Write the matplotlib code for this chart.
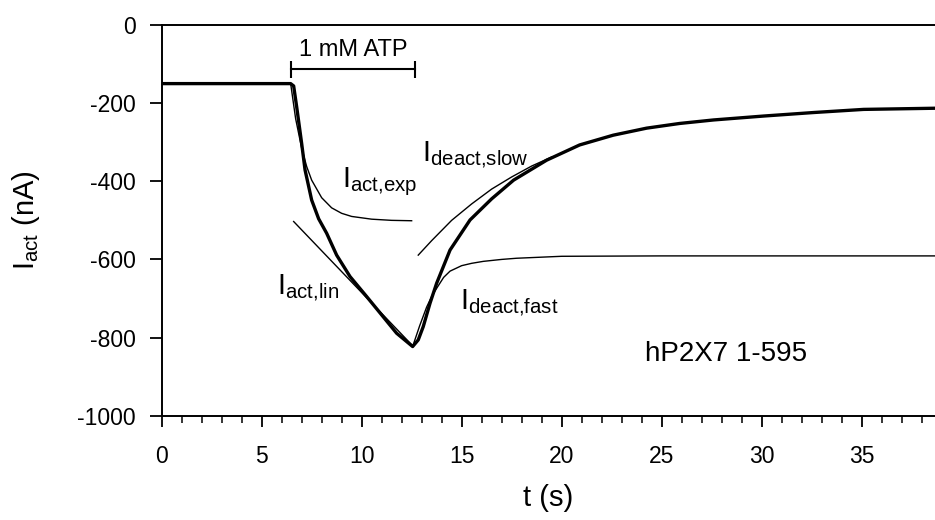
import numpy as np
import matplotlib.pyplot as plt
from matplotlib.ticker import MultipleLocator

plt.rcParams['font.family'] = ['Liberation Sans', 'DejaVu Sans']
plt.rcParams['mathtext.fontset'] = 'custom'
plt.rcParams['mathtext.rm'] = 'Liberation Sans'
plt.rcParams['mathtext.it'] = 'Liberation Sans:italic'
plt.rcParams['axes.unicode_minus'] = False

# measured current trace (time in s, current in nA)
trace_t = [0, 1, 2, 3, 4, 5, 6, 6.45, 6.6, 6.75, 7.0, 7.17, 7.5, 7.85, 8.25, 8.75,
           9.42, 10.25, 11.08, 11.75, 12.55, 12.83, 13.08, 13.42, 13.75, 14.42,
           15.42, 16.5, 17.6, 19.25, 20.9, 22.58, 24.25, 25.9, 27.6, 30.1,
           32.6, 35.1, 38.7]
trace_i = [-150, -150, -150, -150, -150, -150, -150, -150, -156, -209, -303, -371,
           -448, -496, -533, -589, -644, -695, -747, -789, -823, -806, -772, -712,
           -661, -576, -499, -445, -397, -346, -307, -282, -264, -252, -243, -233,
           -224, -216, -213]

# exponential fit of the activation phase
act_exp_t = [6.45, 6.7, 7.0, 7.25, 7.5, 8.0, 8.5, 9.0, 9.5, 10.5, 11.5, 12.5]
act_exp_i = [-150, -240, -315, -362, -397, -442, -468, -482, -490, -497, -500, -501]

# linear fit of the late activation phase
act_lin_t = [6.6, 12.55]
act_lin_i = [-503, -821]

# fast deactivation component
deact_fast_t = [12.55, 12.9, 13.25, 13.5, 13.8, 14.1, 14.42, 15.0, 15.5, 16.08, 17.0,
                17.75, 20.0, 25.0, 38.7]
deact_fast_i = [-823, -770, -722, -695, -670, -646, -630, -616, -610, -605, -600,
                -597, -592, -591, -591]

# slow deactivation component
deact_slow_t = [12.83, 13.5, 14.5, 15.5, 16.5, 17.5, 18.5, 19.5]
deact_slow_i = [-589, -552, -500, -458, -420, -389, -361, -338]

# ATP application bar
atp_on, atp_off, atp_level = 6.45, 12.67, -113

fig = plt.figure(figsize=(9.35, 5.2), dpi=100)
ax = fig.add_axes([0.1729, 0.2006, 0.8271, 0.7513])

ax.plot(trace_t, trace_i, '-', color='black', lw=2.4, solid_joinstyle='round', zorder=3)
ax.plot(act_exp_t, act_exp_i, '-', color='black', lw=1.0)
ax.plot(act_lin_t, act_lin_i, '-', color='black', lw=1.0)
ax.plot(deact_fast_t, deact_fast_i, '-', color='black', lw=1.0)
ax.plot(deact_slow_t, deact_slow_i, '-', color='black', lw=1.0)

ax.plot([atp_on, atp_off], [atp_level, atp_level], '-', color='black', lw=1.5)
ax.vlines([atp_on, atp_off], atp_level - 22, atp_level + 20, color='black', lw=1.5)
ax.text((atp_on + atp_off) / 2, atp_level + 22, '1 mM ATP', ha='center', va='bottom',
        fontsize=17)

ax.text(9.0, -400, r'I$_{\mathrm{act{,}exp}}$', ha='left', va='center', fontsize=21)
ax.text(13.0, -335, r'I$_{\mathrm{deact{,}slow}}$', ha='left', va='center', fontsize=21)
ax.text(5.75, -675, r'I$_{\mathrm{act{,}lin}}$', ha='left', va='center', fontsize=21)
ax.text(14.92, -713, r'I$_{\mathrm{deact{,}fast}}$', ha='left', va='center', fontsize=21)
ax.text(24.17, -843, 'hP2X7 1-595', ha='left', va='center', fontsize=20)

ax.set_xlim(0, 38.67)
ax.set_ylim(-1000, 0)
ax.xaxis.set_major_locator(MultipleLocator(5))
ax.xaxis.set_minor_locator(MultipleLocator(1))
ax.yaxis.set_major_locator(MultipleLocator(200))

for s in ['left', 'bottom', 'top']:
    ax.spines[s].set_linewidth(1.4)
ax.spines['right'].set_visible(False)

ax.tick_params(axis='x', which='major', direction='out', length=8, width=1.3,
               labelsize=16.5, pad=13, top=False)
ax.tick_params(axis='x', which='minor', direction='out', length=5, width=1.1, top=False)
ax.tick_params(axis='y', which='major', direction='out', length=8.5, width=1.3,
               labelsize=16.5, pad=10, right=False)

ax.set_xlabel('t (s)', fontsize=21)
ax.set_ylabel(r'I$_{\mathrm{act}}$ (nA)', fontsize=21)
ax.xaxis.set_label_coords(0.5, -0.175)
ax.yaxis.set_label_coords(-0.155, 0.5)

plt.savefig('out.png', dpi=100)
